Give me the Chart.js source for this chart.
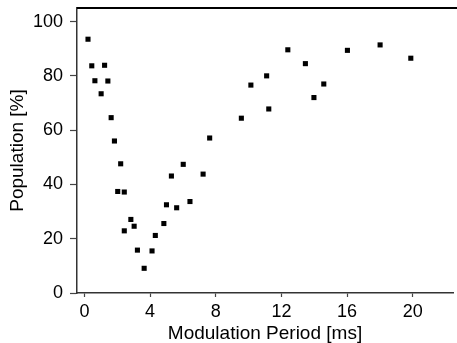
<!DOCTYPE html>
<html>
<head>
<meta charset="utf-8">
<script src="https://cdn.jsdelivr.net/npm/chart.js@4/dist/chart.umd.min.js"></script>
<style>
  body { margin: 0; background: #fff; }
  #wrap { width: 457px; height: 343px; }
</style>
</head>
<body>
<div id="wrap"><canvas id="chart" width="457" height="343"></canvas></div>
<script>
// data
const periodMs = [0.22, 0.45, 0.64, 1.02, 1.23, 1.43, 1.63, 1.83, 2.03, 2.21, 2.43, 2.43, 2.83, 3.03, 3.23, 3.64,
    4.12, 4.32, 4.84, 5.0, 5.3, 5.62, 6.02, 6.43, 7.23, 7.63,
    9.56, 10.14, 11.1, 11.23, 12.39, 13.46, 13.98, 14.58, 16.02, 18.01, 19.88];
const population = [93.5, 83.7, 78.2, 73.4, 83.9, 78.1, 64.6, 56.0, 37.4, 47.6, 37.2, 22.9, 27.1, 24.6, 15.8, 9.1,
    15.5, 21.2, 25.6, 32.5, 43.1, 31.4, 47.4, 33.7, 43.8, 57.1,
    64.4, 76.6, 80.0, 67.8, 89.6, 84.5, 72.0, 77.0, 89.4, 91.4, 86.5];
const xTicks = [0, 4, 8, 12, 16, 20];
const yTicks = [0, 20, 40, 60, 80, 100];

const fontFamily = "'Liberation Sans', Arial, Helvetica, sans-serif";

// top frame line
const topLine = {
    id: 'topLine',
    afterDraw(chart) {
        const { ctx, chartArea } = chart;
        ctx.save();
        ctx.strokeStyle = '#000';
        ctx.lineWidth = 2;
        ctx.beginPath();
        ctx.moveTo(chartArea.left, chartArea.top);
        ctx.lineTo(chart.width, chartArea.top);
        ctx.stroke();
        ctx.restore();
    }
};

const points = periodMs.map((x, i) => ({ x: x, y: population[i] }));

new Chart(document.getElementById('chart'), {
    type: 'scatter',
    data: {
        datasets: [{
            data: points,
            pointStyle: 'rect',
            pointRadius: 3.6,
            pointBorderWidth: 0,
            backgroundColor: '#000',
            borderColor: '#000'
        }]
    },
    options: {
        responsive: false,
        animation: false,
        layout: { padding: { top: 8, right: 0, left: 0, bottom: 0 } },
        plugins: {
            legend: { display: false },
            tooltip: { enabled: false }
        },
        scales: {
            x: {
                type: 'linear',
                min: -0.45,
                max: 22.45,
                afterBuildTicks: (axis) => { axis.ticks = xTicks.map(v => ({ value: v })); },
                afterFit: (axis) => {
                    axis.height = 50;
                    axis.paddingLeft = 0;
                    axis.paddingRight = 0;
                },
                border: { display: true, color: '#333', width: 1.5 },
                grid: { drawOnChartArea: false, drawTicks: true, tickLength: 4, tickColor: '#444', tickWidth: 1.2 },
                ticks: { color: '#000', padding: 4, font: { family: fontFamily, size: 18 } },
                title: {
                    display: true,
                    text: 'Modulation Period [ms]',
                    color: '#000',
                    padding: 0,
                    font: { family: fontFamily, size: 19, lineHeight: 1.0 }
                }
            },
            y: {
                min: 0,
                max: 105,
                afterBuildTicks: (axis) => { axis.ticks = yTicks.map(v => ({ value: v })); },
                afterFit: (axis) => {
                    axis.width = 77;
                    axis.paddingTop = 0;
                    axis.paddingBottom = 0;
                },
                border: { display: true, color: '#333', width: 1.5 },
                grid: { drawOnChartArea: false, drawTicks: true, tickLength: 7, tickColor: '#444', tickWidth: 1.2 },
                ticks: { color: '#000', padding: 7, font: { family: fontFamily, size: 18 } },
                title: {
                    display: true,
                    text: 'Population [%]',
                    color: '#000',
                    padding: { top: 8, bottom: 0 },
                    font: { family: fontFamily, size: 19, lineHeight: 1.0 }
                }
            }
        }
    },
    plugins: [topLine]
});
</script>
</body>
</html>
